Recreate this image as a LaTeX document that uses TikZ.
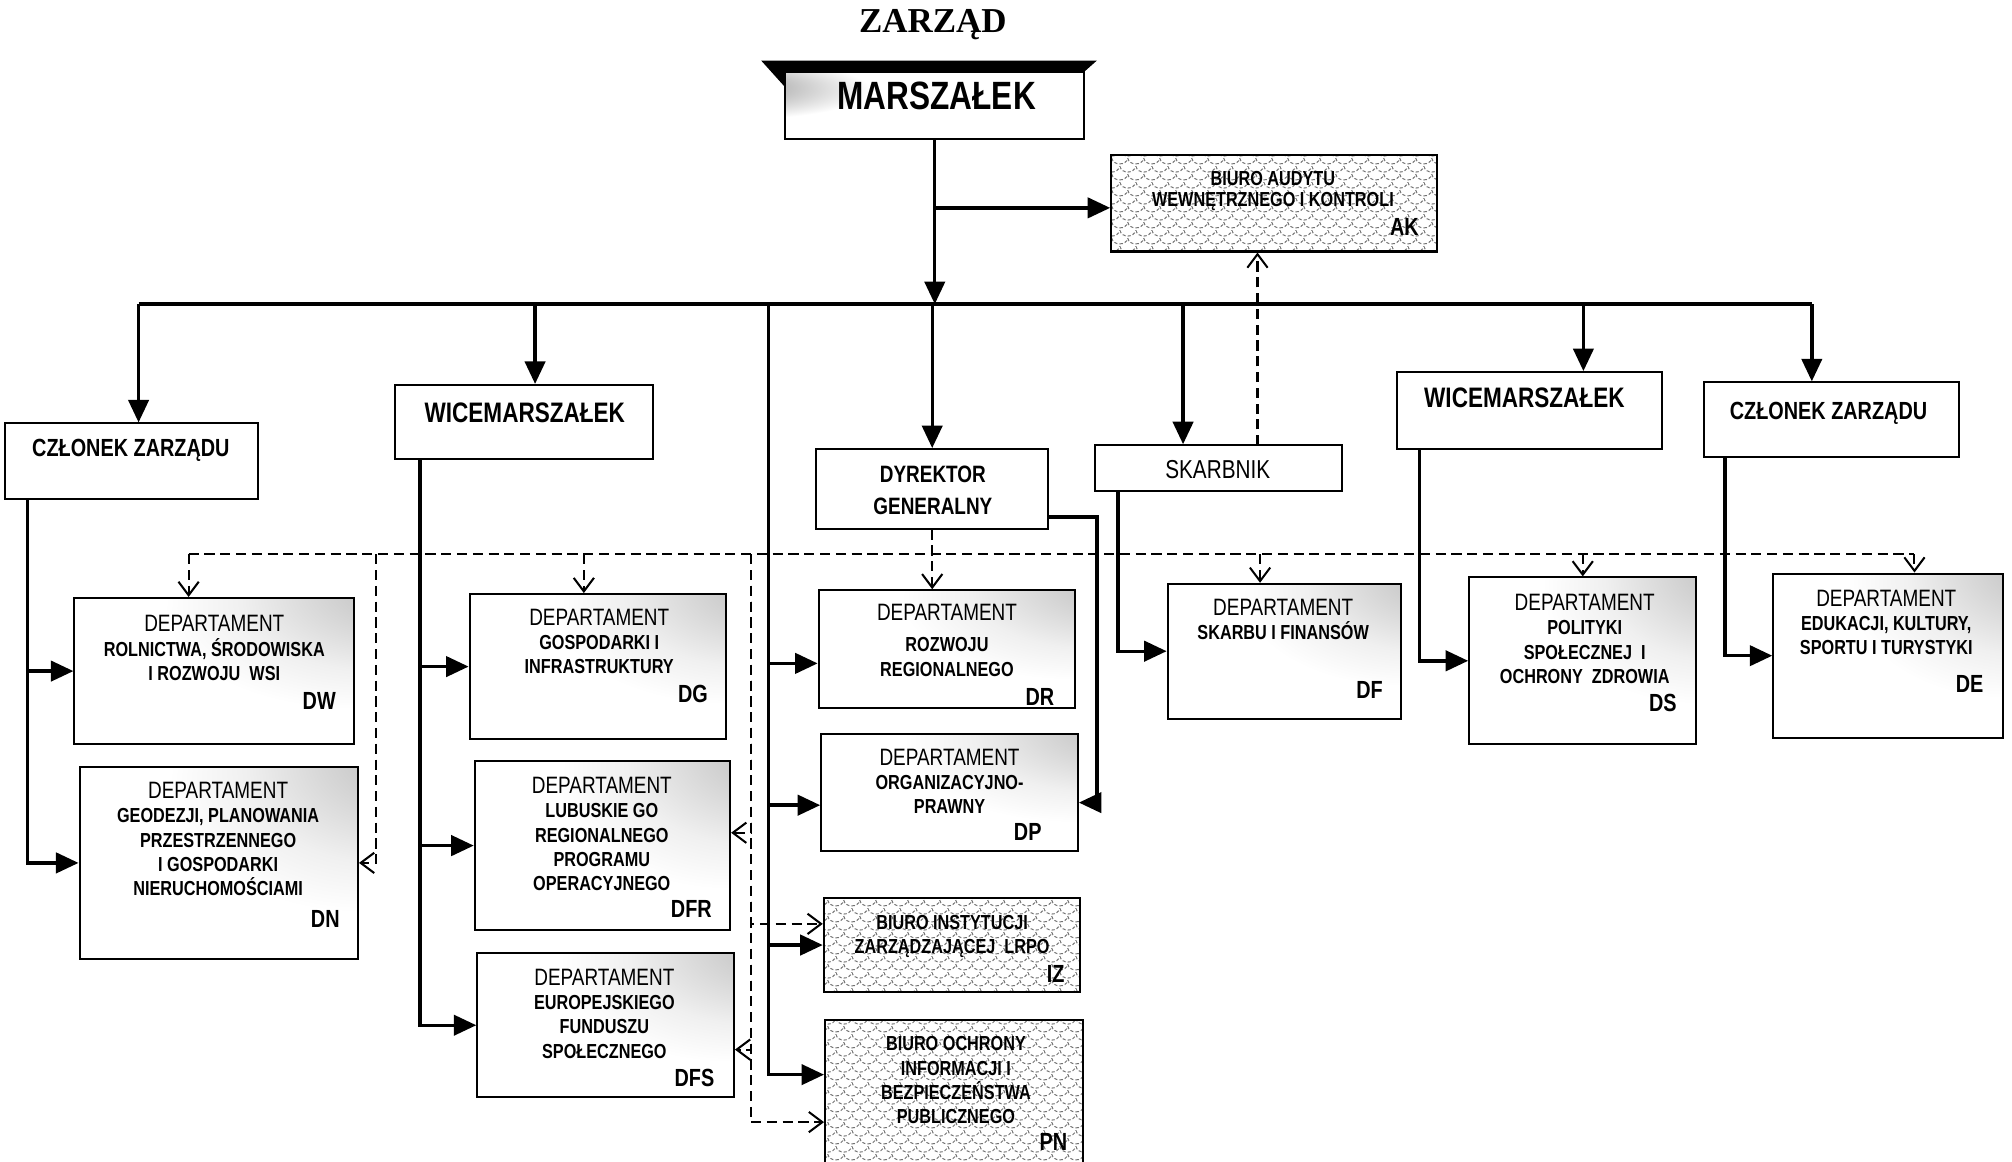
\documentclass[tikz,border=0pt]{standalone}
\usepackage{fontspec}
\setmainfont{Liberation Sans}[FakeStretch=0.8]
\newfontfamily\titlefont{Liberation Serif}
\usetikzlibrary{arrows.meta,patterns}

\pgfdeclarepatternformonly{scales}{\pgfqpoint{0pt}{0pt}}{\pgfqpoint{7pt}{7pt}}{\pgfqpoint{7pt}{7pt}}{%
  \pgfsetlinewidth{0.45pt}%
  \pgfsetdash{{1.4pt}{0.9pt}}{0pt}%
  \pgfpathmoveto{\pgfqpoint{0pt}{7pt}}%
  \pgfpathcurveto{\pgfqpoint{0.6pt}{3.6pt}}{\pgfqpoint{6.4pt}{3.6pt}}{\pgfqpoint{7pt}{7pt}}%
  \pgfpathmoveto{\pgfqpoint{-3.5pt}{3.5pt}}%
  \pgfpathcurveto{\pgfqpoint{-2.9pt}{0.1pt}}{\pgfqpoint{2.9pt}{0.1pt}}{\pgfqpoint{3.5pt}{3.5pt}}%
  \pgfpathmoveto{\pgfqpoint{3.5pt}{3.5pt}}%
  \pgfpathcurveto{\pgfqpoint{4.1pt}{0.1pt}}{\pgfqpoint{9.9pt}{0.1pt}}{\pgfqpoint{10.5pt}{3.5pt}}%
  \pgfusepath{stroke}}
\pgfdeclareradialshading{speck}{\pgfpoint{38bp}{32bp}}{color(0bp)=(black!35); color(10bp)=(black!20); color(24bp)=(black!6); color(34bp)=(white); color(100bp)=(white)}
\pgfdeclareradialshading{speckleft}{\pgfpoint{-42bp}{15bp}}{color(0bp)=(black!55); color(10bp)=(black!30); color(22bp)=(white); color(100bp)=(white)}

\newcommand{\deptitle}{{\mdseries\fontsize{10.5}{10.8}\selectfont DEPARTAMENT}}

\begin{document}
\begin{tikzpicture}[scale=0.2]
\tikzstyle{every node}+=[inner sep=0pt]
\tikzstyle{box}=[draw, line width=0.9pt]
\tikzstyle{dbox}=[box, shade, shading=speck]
\tikzstyle{hbox}=[box, pattern=scales, pattern color=black!55]
\tikzstyle{htext}=[font=\bfseries\fontsize{11}{14}\selectfont]
\tikzstyle{dtext}=[align=center, font=\bfseries\fontsize{9}{10.8}\selectfont]
\tikzstyle{btext}=[align=center, font=\bfseries\fontsize{9}{9.5}\selectfont]
\tikzstyle{dcode}=[anchor=east, font=\bfseries\fontsize{11}{13}\selectfont]
\tikzstyle{solidline}=[line width=1.5pt]
\tikzstyle{solidto}=[solidline, -{Triangle[length=10pt,width=9pt]}]
\tikzstyle{dashline}=[line width=0.9pt, dash pattern=on 4.5pt off 2.5pt]
\tikzstyle{dashto}=[dashline, -{Straight Barb[length=6pt,width=9pt]}]
\useasboundingbox (0,0) rectangle (156.8,-90.5);

% zarzad
\node (zarzad) at (72.7,-1.9) {\titlefont\bfseries\fontsize{15.5}{18}\selectfont ZARZĄD};
\node [box, shade, shading=speckleft, minimum width=4.66cm, minimum height=1.04cm] (marsz) at (72.85,-8.2) {};
\fill ([xshift=-18mm,yshift=8mm]marsz.north west) -- ([xshift=9mm,yshift=8mm]marsz.north east) -- (marsz.north east) -- (marsz.north west) -- ([yshift=-12mm]marsz.north west) -- cycle;
\node [font=\bfseries\fontsize{17.5}{20}\selectfont] (marszt) at (73.0,-7.5) {MARSZAŁEK};
\node [hbox, minimum width=5.08cm, minimum height=1.5cm] (ak) at (99.3,-15.85) {};
\node [btext] (akt) at (99.2,-14.9) {BIURO AUDYTU\\WEWNĘTRZNEGO I KONTROLI};
\node [dcode] (akc) at (110.6,-17.7) {AK};

% czlonkowie zarzadu
\node [box, minimum width=3.94cm, minimum height=1.18cm] (czl) at (10.25,-35.95) {};
\node [htext] (czlt) at (10.2,-35.1) {CZŁONEK ZARZĄDU};
\node [box, minimum width=4.02cm, minimum height=1.16cm] (wicel) at (40.85,-32.9) {};
\node [font=\bfseries\fontsize{12.5}{14}\selectfont] (wicelt) at (40.9,-32.2) {WICEMARSZAŁEK};
\node [box, minimum width=3.62cm, minimum height=1.24cm] (dyr) at (72.65,-38.1) {};
\node [htext, align=center, font=\bfseries\fontsize{10.5}{14.2}\selectfont] (dyrt) at (72.7,-38.25) {DYREKTOR\\GENERALNY};
\node [box, minimum width=3.86cm, minimum height=0.72cm] (skarb) at (94.95,-36.5) {};
\node [font=\fontsize{11.5}{14}\selectfont] (skarbt) at (94.9,-36.6) {SKARBNIK};
\node [box, minimum width=4.12cm, minimum height=1.2cm] (wicer) at (119.2,-32.0) {};
\node [font=\bfseries\fontsize{12.5}{14}\selectfont] (wicert) at (118.8,-31.0) {WICEMARSZAŁEK};
\node [box, minimum width=3.98cm, minimum height=1.16cm] (czr) at (142.75,-32.7) {};
\node [htext] (czrt) at (142.5,-32.2) {CZŁONEK ZARZĄDU};

% departamenty
\node [dbox, minimum width=4.36cm, minimum height=2.28cm] (dw) at (16.7,-52.3) {};
\node [dtext] (dwt) at (16.7,-50.5) {\deptitle\\ROLNICTWA, ŚRODOWISKA\\I ROZWOJU~~WSI};
\node [dcode] (dwc) at (26.2,-54.6) {DW};
\node [dbox, minimum width=4.34cm, minimum height=2.98cm] (dn) at (17.05,-67.25) {};
\node [dtext] (dnt) at (17.0,-65.4) {\deptitle\\GEODEZJI, PLANOWANIA\\PRZESTRZENNEGO\\I GOSPODARKI\\NIERUCHOMOŚCIAMI};
\node [dcode] (dnc) at (26.5,-71.6) {DN};
\node [dbox, minimum width=4.0cm, minimum height=2.26cm] (dg) at (46.6,-51.95) {};
\node [dtext] (dgt) at (46.7,-50.0) {\deptitle\\GOSPODARKI I\\INFRASTRUKTURY};
\node [dcode] (dgc) at (55.2,-54.1) {DG};
\node [dbox, minimum width=3.98cm, minimum height=2.64cm] (dfr) at (46.95,-65.9) {};
\node [dtext] (dfrt) at (46.9,-65.0) {\deptitle\\LUBUSKIE GO\\REGIONALNEGO\\PROGRAMU\\OPERACYJNEGO};
\node [dcode] (dfrc) at (55.5,-70.8) {DFR};
\node [dbox, minimum width=4.0cm, minimum height=2.24cm] (dfs) at (47.2,-79.9) {};
\node [dtext] (dfst) at (47.1,-79.0) {\deptitle\\EUROPEJSKIEGO\\FUNDUSZU\\SPOŁECZNEGO};
\node [dcode] (dfsc) at (55.7,-84.0) {DFS};
\node [dbox, minimum width=4.0cm, minimum height=1.84cm] (dr) at (73.8,-50.6) {};
\node [dtext] (drt) at (73.8,-49.9) {\deptitle\\[3pt]ROZWOJU\\REGIONALNEGO};
\node [dcode] (drc) at (82.2,-54.3) {DR};
\node [dbox, minimum width=4.0cm, minimum height=1.82cm] (dp) at (74.0,-61.75) {};
\node [dtext] (dpt) at (74.0,-60.9) {\deptitle\\ORGANIZACYJNO-\\PRAWNY};
\node [dcode] (dpc) at (81.2,-64.8) {DP};
\node [hbox, minimum width=4.0cm, minimum height=1.46cm] (iz) at (74.2,-73.65) {};
\node [dtext] (izt) at (74.2,-73.0) {BIURO INSTYTUCJI\\ZARZĄDZAJĄCEJ~~LRPO};
\node [dcode] (izc) at (83.0,-75.9) {IZ};
\node [hbox, minimum width=4.02cm, minimum height=2.3cm] (pn) at (74.35,-85.25) {};
\node [dtext] (pnt) at (74.5,-84.2) {BIURO OCHRONY\\INFORMACJI I\\BEZPIECZEŃSTWA\\PUBLICZNEGO};
\node [dcode] (pnc) at (83.2,-89.0) {PN};
\node [dbox, minimum width=3.64cm, minimum height=2.1cm] (df) at (100.1,-50.75) {};
\node [dtext] (dft) at (100.0,-48.3) {\deptitle\\SKARBU I FINANSÓW};
\node [dcode] (dfc) at (107.8,-53.8) {DF};
\node [dbox, minimum width=3.54cm, minimum height=2.6cm] (ds) at (123.35,-51.5) {};
\node [dtext] (dst) at (123.5,-49.8) {\deptitle\\POLITYKI\\SPOŁECZNEJ~~I\\OCHRONY~~ZDROWIA};
\node [dcode] (dsc) at (130.7,-54.8) {DS};
\node [dbox, minimum width=3.58cm, minimum height=2.56cm] (de) at (147.15,-51.1) {};
\node [dtext] (det) at (147.0,-48.5) {\deptitle\\EDUKACJI, KULTURY,\\SPORTU I TURYSTYKI};
\node [dcode] (dec) at (154.6,-53.3) {DE};

% podleglosc sluzbowa
\coordinate (bus) at (72.85,-23.7);
\coordinate (akfork) at (72.85,-16.2);
\coordinate (busl) at (10.8,-23.7);
\coordinate (busr) at (141.2,-23.7);
\coordinate (wld) at (41.7,-23.7);
\coordinate (midt) at (59.9,-23.7);
\coordinate (skd) at (92.2,-23.7);
\coordinate (wrd) at (123.4,-23.7);
\coordinate (dyrc) at (85.5,-40.3);
\draw [solidto] (marsz.south) -- (bus);
\draw [solidto] (akfork) -- (akfork -| ak.west);
\draw [solidline] (busl) -- (busr);
\draw [solidto] (busl) -- (busl |- czl.north);
\draw [solidto] (wld) -- (wld |- wicel.north);
\draw [solidto] (bus -| dyr.north) -- (dyr.north);
\draw [solidto] (skd) -- (skd |- skarb.north);
\draw [solidto] (wrd) -- (wrd |- wicer.north);
\draw [solidto] (busr) -- (busr |- czr.north);
\draw [solidto] ([xshift=18mm]czl.south west) |- (dw.west);
\draw [solidto] ([xshift=18mm]czl.south west) |- (dn.west);
\draw [solidto] ([xshift=20mm]wicel.south west) |- (dg.west);
\draw [solidto] ([xshift=20mm]wicel.south west) |- (dfr.west);
\draw [solidto] ([xshift=20mm]wicel.south west) |- (dfs.west);
\draw [solidto] (midt) |- ([yshift=-11mm]dr.west);
\draw [solidto] (midt) |- ([yshift=-10mm]dp.west);
\draw [solidto] (midt) |- (iz.west);
\draw [solidto] (midt) |- ([yshift=15mm]pn.west);
\draw [solidto] (dyrc -| dyr.east) -- (dyrc) |- ([yshift=-8mm]dp.east);
\draw [solidto] ([xshift=19mm]skarb.south west) |- (df.west);
\draw [solidto] ([xshift=18mm]wicer.south west) |- (ds.west);
\draw [solidto] ([xshift=17mm]czr.south west) |- (de.west);

% nadzor merytoryczny
\coordinate (dashl) at (14.7,-43.2);
\coordinate (dashr) at (149.2,-43.2);
\coordinate (dnd) at (29.3,-43.2);
\coordinate (dgd) at (45.5,-43.2);
\coordinate (midd) at (58.5,-43.2);
\coordinate (dfd) at (98.2,-43.2);
\coordinate (skup) at (98.0,-34.7);
\draw [dashline] (dashl) -- (dashr);
\draw [dashto] (dashl) -- (dashl |- dw.north);
\draw [dashto] (dgd) -- (dgd |- dg.north);
\draw [dashto] (dyr.south) -- (dyr.south |- dr.north);
\draw [dashto] (dfd) -- (dfd |- df.north);
\draw [dashto] (dashl -| ds.north) -- (ds.north);
\draw [dashto] (dashr) -- (dashr |- de.north);
\draw [dashto] (dnd) |- (dn.east);
\draw [dashto] (midd) |- ([yshift=10mm]dfr.east);
\draw [dashto] (midd) |- ([yshift=-19mm]dfs.east);
\draw [dashto] (midd) |- ([yshift=16.5mm]iz.west);
\draw [dashto] (midd) |- ([yshift=-22mm]pn.west);
\draw [dashto] (skup) -- (skup |- ak.south);
\end{tikzpicture}
\end{document}
